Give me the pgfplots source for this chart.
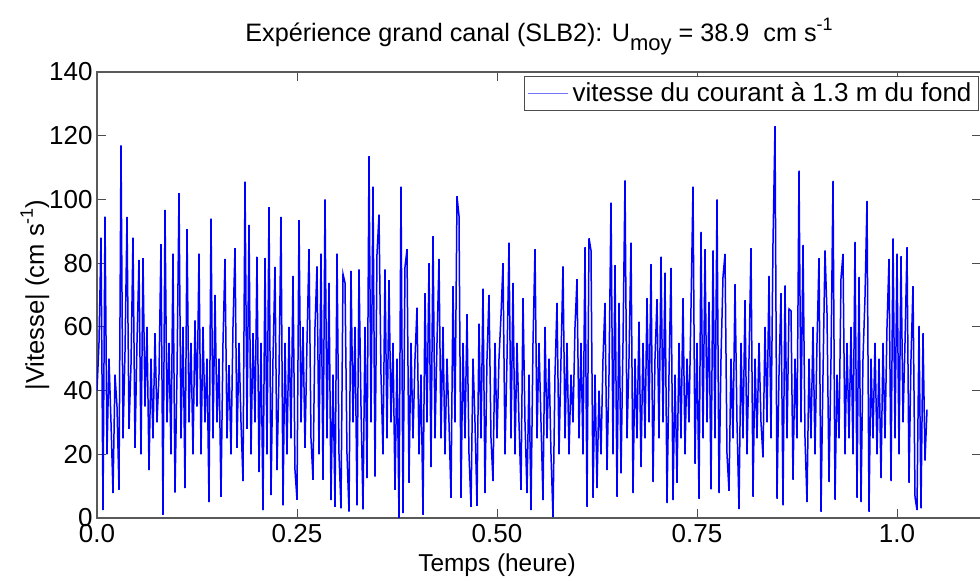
\documentclass[border=0pt]{standalone}
\usepackage{pgfplots}
\pgfplotsset{compat=1.18}
\usepackage{fontspec}
\setmainfont{Liberation Sans}
\definecolor{mblue}{rgb}{0,0,1}
\definecolor{lblue}{rgb}{0.45,0.45,1}
\newcommand\subtxt[1]{\raisebox{-4.5pt}{\fontsize{11}{11}\selectfont #1}}
\newcommand\suptxt[1]{\raisebox{5.5pt}{\fontsize{9}{9}\selectfont #1}}
\begin{document}
\begin{tikzpicture}
\useasboundingbox (-48.5pt,-31.5pt) rectangle (441.5pt,259pt);
\begin{axis}[
  at={(0,0)}, anchor=south west,
  scale only axis, width=442pt, height=223pt,
  xmin=0, xmax=1.105, ymin=0, ymax=140,
  xtick={0,0.25,0.5,0.75,1.0},
  xticklabels={0.0,0.25,0.50,0.75,1.0},
  ytick={0,20,40,60,80,100,120,140},
  /pgf/number format/assume math mode=true,
  tick align=inside, major tick length=4.5pt,
  tick style={black!70, line width=0.5pt},
  axis line style={black!65, line width=0.6pt},
  ticklabel style={font=\fontsize{13}{15}\selectfont},
  xticklabel style={anchor=base, yshift=-12.5pt},
  yticklabel style={anchor=east, inner sep=0pt, xshift=-2pt},
  title={Expérience grand canal (SLB2): U\subtxt{moy} = 38.9\ \ cm s\suptxt{-1}},
  title style={at={(0.5,1)}, anchor=base, yshift=9pt, font=\fontsize{12.6}{14}\selectfont},
  xlabel={Temps (heure)},
  xlabel style={at={(axis description cs:0.4525,0)}, anchor=base, yshift=-27pt, font=\fontsize{12.2}{14}\selectfont},
  ylabel={|Vitesse| (cm s\suptxt{-1})},
  ylabel style={at={(axis description cs:-0.06,0.5)}, anchor=base, font=\fontsize{12.8}{14}\selectfont},
  legend image code/.code={\draw[lblue, line width=0.6pt] (0pt,0pt) -- (20pt,0pt);},
  legend style={at={(1,1)}, anchor=north east, xshift=-1pt, yshift=-2pt,
    draw=black!70, line width=0.5pt, inner xsep=1.5pt, inner ysep=1pt,
    font=\fontsize{13}{15}\selectfont, cells={anchor=west}},
]
\addplot[mblue, line width=0.75pt, mark=none] table[row sep=\\, header=false, x expr=\coordindex*0.0025, y index=0] {
40\\ 55\\ 88\\ 2.5\\ 94.6\\ 20\\ 50\\ 30\\ 7.8\\ 45\\
35\\ 8.8\\ 117\\ 25\\ 52\\ 94.5\\ 28\\ 48\\ 88\\ 22\\
55\\ 81\\ 20\\ 81.6\\ 35\\ 60\\ 15\\ 50\\ 25\\ 58\\
30\\ 45\\ 86\\ 1\\ 96.7\\ 30\\ 55\\ 20\\ 83\\ 8\\
45\\ 102\\ 25\\ 60\\ 9.4\\ 90.7\\ 30\\ 55\\ 20\\ 62\\
35\\ 83\\ 20\\ 60\\ 30\\ 50\\ 5\\ 94\\ 25\\ 70\\
30\\ 50\\ 6.6\\ 55\\ 81.3\\ 25\\ 48\\ 20\\ 60\\ 84.7\\
22\\ 55\\ 30\\ 11.6\\ 105.6\\ 28\\ 92\\ 20\\ 58\\ 30\\
82\\ 14.4\\ 55\\ 2.5\\ 81.6\\ 20\\ 97.6\\ 7.2\\ 50\\ 78.8\\
15\\ 45\\ 94.5\\ 4\\ 55\\ 20\\ 60\\ 25\\ 76\\ 15\\
5.7\\ 93.5\\ 30\\ 60\\ 22\\ 55\\ 84.4\\ 25\\ 12\\ 60\\
79\\ 20\\ 83\\ 12\\ 100\\ 25\\ 73.8\\ 5.6\\ 45\\ 3.5\\
83\\ 20\\ 3\\ 76.6\\ 73.8\\ 20\\ 2\\ 77.6\\ 30\\ 60\\
4\\ 78\\ 35\\ 2.7\\ 60\\ 12.5\\ 113.6\\ 30\\ 104\\ 13\\
82.9\\ 95.2\\ 45\\ 20\\ 78\\ 25\\ 74.7\\ 30\\ 55\\ 8.8\\
50\\ 0\\ 104\\ 1.5\\ 78.8\\ 84.4\\ 11\\ 55\\ 25\\ 50\\
66\\ 20\\ 45\\ 1\\ 70.6\\ 30\\ 80\\ 16\\ 88.5\\ 25\\
55\\ 81.3\\ 25\\ 60\\ 20\\ 50\\ 30\\ 6.3\\ 72.8\\ 30\\
101\\ 94.8\\ 6.3\\ 55\\ 25\\ 64\\ 20\\ 3.5\\ 50\\ 30\\
3.8\\ 61\\ 25\\ 72\\ 7.8\\ 50\\ 70\\ 25\\ 11.6\\ 55\\
25\\ 50\\ 63.5\\ 80\\ 20\\ 50\\ 86.4\\ 25\\ 73.8\\ 20\\
55\\ 30\\ 8.8\\ 69\\ 30\\ 7.8\\ 45\\ 2.5\\ 55\\ 84.4\\
25\\ 55\\ 30\\ 5.6\\ 60\\ 25\\ 50\\ 20\\ 0.3\\ 45\\
67.5\\ 20\\ 50\\ 79\\ 25\\ 55\\ 20\\ 45\\ 30\\ 60\\
75\\ 25\\ 55\\ 20\\ 85\\ 3.5\\ 87.8\\ 84\\ 6.3\\ 45\\
9.4\\ 40\\ 20\\ 50\\ 67.5\\ 15\\ 45\\ 99\\ 20\\ 79.4\\
6.6\\ 67.5\\ 14\\ 55\\ 106\\ 25\\ 50\\ 86.4\\ 7.8\\ 50\\
25\\ 61.6\\ 16\\ 55\\ 25\\ 69\\ 30\\ 79.7\\ 11.3\\ 50\\
68.7\\ 25\\ 82\\ 30\\ 77\\ 4.7\\ 45\\ 78.5\\ 5.6\\ 45\\
11\\ 55\\ 25\\ 69\\ 20\\ 50\\ 30\\ 66\\ 104\\ 17\\
55\\ 6\\ 89.8\\ 25\\ 84.4\\ 30\\ 67.8\\ 9\\ 84\\ 25\\
100\\ 7.8\\ 50\\ 75.7\\ 82.9\\ 20\\ 8.5\\ 50\\ 25\\ 73.4\\
30\\ 2.8\\ 55\\ 25\\ 68.4\\ 20\\ 50\\ 84.7\\ 6.6\\ 50\\
25\\ 55\\ 30\\ 19\\ 60\\ 30\\ 76\\ 25\\ 86.4\\ 123\\
6\\ 45\\ 70.6\\ 4\\ 73\\ 25\\ 65.6\\ 65\\ 12\\ 50\\
25\\ 109\\ 30\\ 85.7\\ 25\\ 5\\ 50\\ 25\\ 60\\ 20\\
55\\ 81.6\\ 1.9\\ 45\\ 84\\ 64.3\\ 11.3\\ 50\\ 105.8\\ 5.7\\
45\\ 25\\ 75.3\\ 82.9\\ 20\\ 55\\ 25\\ 60\\ 20\\ 86.7\\
6.3\\ 75.7\\ 5\\ 50\\ 69.4\\ 99.5\\ 1.9\\ 50\\ 25\\ 55\\
20\\ 50\\ 12.5\\ 55\\ 25\\ 60\\ 81.3\\ 11.6\\ 87.8\\ 25\\
83\\ 20\\ 82.2\\ 30\\ 55\\ 85\\ 11\\ 50\\ 72.8\\ 6.6\\
2.5\\ 60.3\\ 3\\ 58\\ 18\\ 34\\
};
\addlegendentry{vitesse du courant à 1.3 m du fond}
\end{axis}
\end{tikzpicture}
\end{document}
